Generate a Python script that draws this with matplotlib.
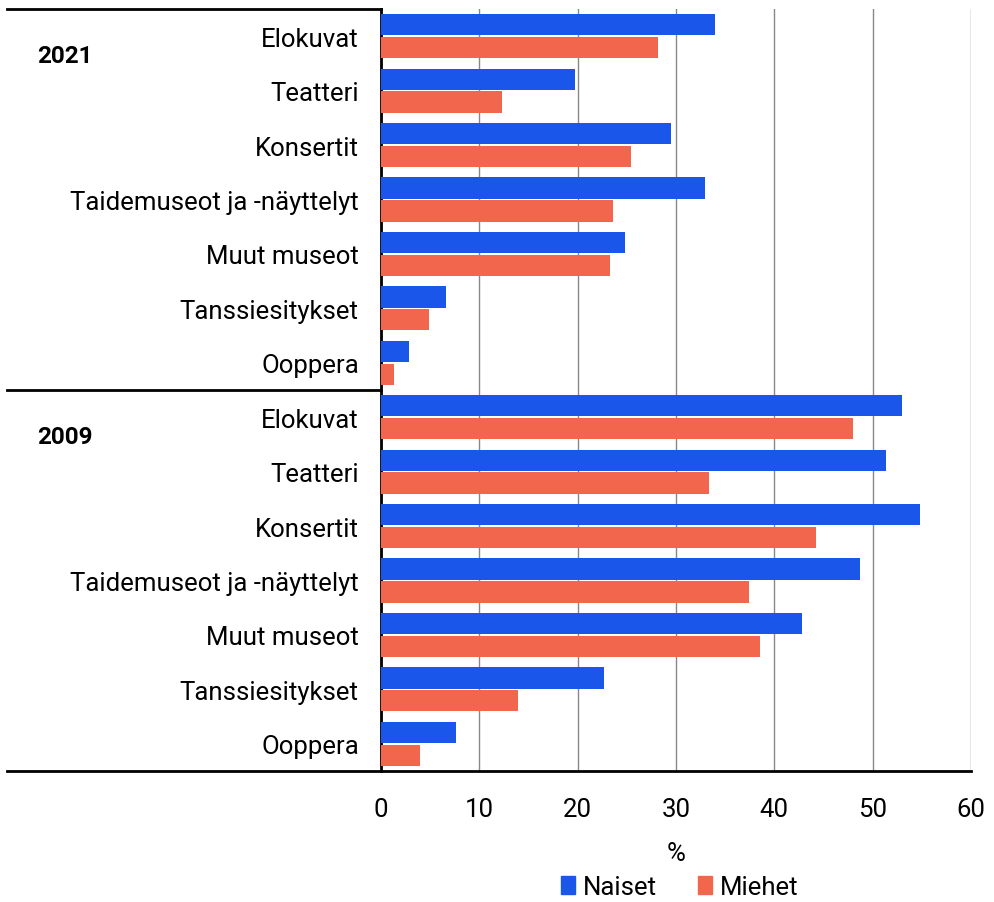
import numpy as np
import matplotlib
matplotlib.use("Agg")
import matplotlib.pyplot as plt
from matplotlib.patches import Patch
import matplotlib.transforms as mtransforms

# ============================================================
# Data
# ============================================================

categories = [
    "Elokuvat", "Teatteri", "Konsertit", "Taidemuseot ja -näyttelyt",
    "Muut museot", "Tanssiesitykset", "Ooppera",
]
groups = ["2021", "2009"]

naiset_2021 = [34.0, 19.7, 29.5, 32.9, 24.8, 6.6, 2.8]
miehet_2021 = [28.2, 12.3, 25.4, 23.6, 23.3, 4.9, 1.3]
naiset_2009 = [53.0, 51.4, 54.8, 48.7, 42.8, 22.7, 7.6]
miehet_2009 = [48.0, 33.4, 44.2, 37.4, 38.5, 13.9, 4.0]

xticks = [0, 10, 20, 30, 40, 50, 60]

BLUE = "#1b56ea"
ORANGE = "#f2664d"
FS = 18.5

plt.rcParams["font.family"] = ["Roboto", "DejaVu Sans"]

# ============================================================
# Figure
# ============================================================

W, H = 994, 903
fig = plt.figure(figsize=(W / 100, H / 100), dpi=100)

ax_left, ax_right = 381 / W, 971 / W
ax_top, ax_bot = 1 - 10 / H, 1 - 772 / H
ax = fig.add_axes([ax_left, ax_bot, ax_right - ax_left, ax_top - ax_bot])

naiset = naiset_2021 + naiset_2009
miehet = miehet_2021 + miehet_2009
labels = categories + categories
y = np.arange(len(labels))

ax.barh(y - 0.21, naiset, height=0.39, color=BLUE, zorder=3, label="Naiset")
ax.barh(y + 0.21, miehet, height=0.39, color=ORANGE, zorder=3, label="Miehet")

ax.set_ylim(len(labels) - 0.5, -0.5)
ax.set_xlim(0, 60)
ax.set_xticks(xticks)
ax.set_xticklabels([str(t) for t in xticks], fontsize=FS)
ax.set_yticks(y)
ax.set_yticklabels(labels, fontsize=FS)
ax.tick_params(axis="both", length=0)
ax.tick_params(axis="x", pad=19)
ax.tick_params(axis="y", pad=16)

ax.xaxis.grid(True, color="#888888", lw=1.0, zorder=0)
ax.set_axisbelow(True)

for s in ["top", "right"]:
    ax.spines[s].set_visible(False)
ax.spines["left"].set_linewidth(2)
ax.spines["bottom"].set_linewidth(2)

ax.set_xlabel("%", fontsize=FS, labelpad=14)

# group separators and labels
trans = mtransforms.blended_transform_factory(ax.transAxes, ax.transData)
x0 = (7 - 381) / (971 - 381)
for yy in [-0.5, 6.5, 13.5]:
    ax.plot([x0, 0], [yy, yy], color="black", lw=2, transform=trans, clip_on=False)

xg = (37 - 381) / (971 - 381)
ax.text(xg, 0.35, groups[0], transform=trans, fontsize=17.5, fontweight="bold",
        ha="left", va="center")
ax.text(xg, 7.35, groups[1], transform=trans, fontsize=17.5, fontweight="bold",
        ha="left", va="center")

handles = [Patch(color=BLUE, label="Naiset"), Patch(color=ORANGE, label="Miehet")]
fig.legend(handles=handles, loc="center", bbox_to_anchor=(680 / W, 1 - 888 / H),
           ncol=2, frameon=False, fontsize=FS, handlelength=0.55, handleheight=0.75,
           handletextpad=0.3, columnspacing=1.6, borderpad=0)

fig.savefig("out.png", dpi=100)
